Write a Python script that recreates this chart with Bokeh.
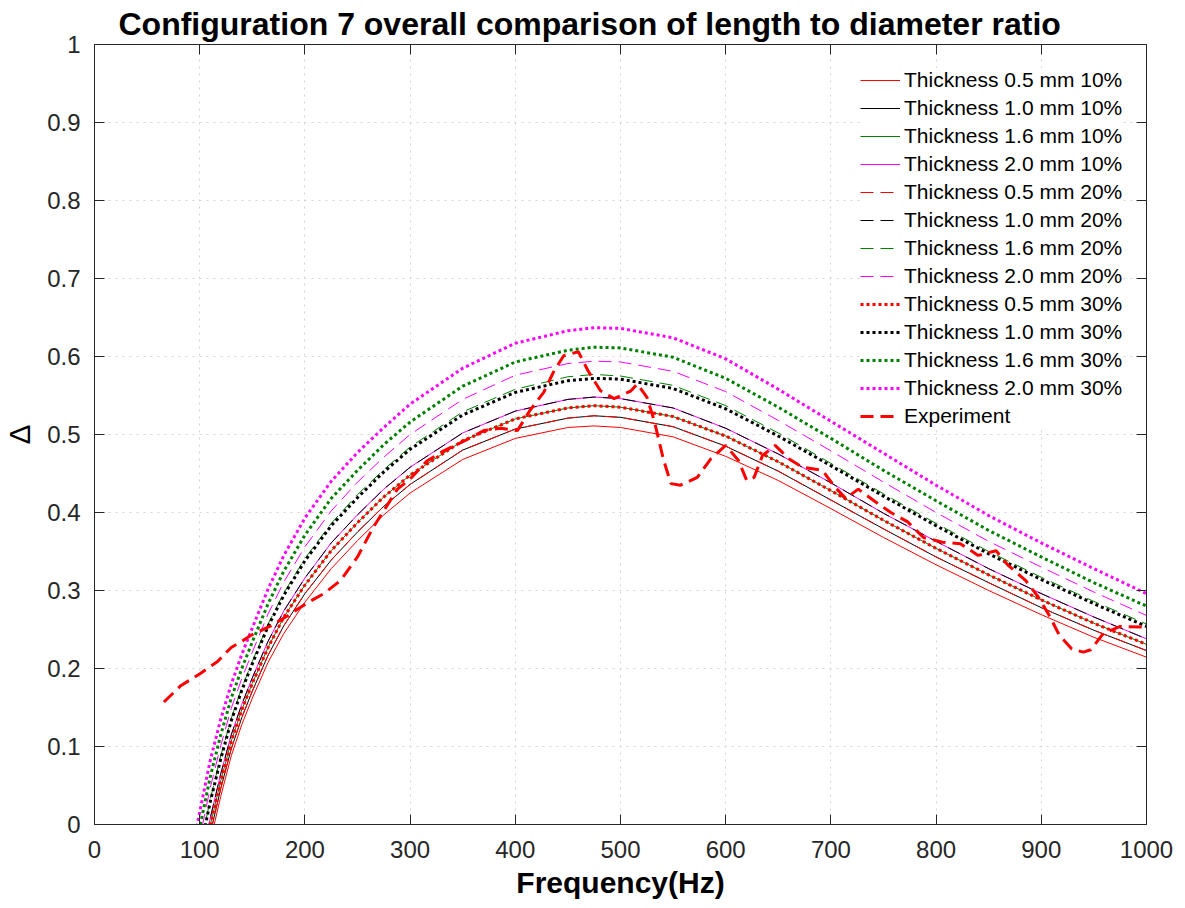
from bokeh.plotting import figure
from bokeh.models import (Range1d, LinearAxis, FixedTicker, NumeralTickFormatter,
                          Legend, LegendItem)
from bokeh.embed import file_html
from bokeh.resources import INLINE

# ---------------- data ----------------
freq = [95, 100, 110, 120, 130, 140, 150, 165, 180, 200, 225, 250, 275, 300, 350,
        400, 450, 475, 500, 550, 600, 650, 700, 750, 800, 850, 900, 950, 1000]

t05_10 = [-0.120, -0.085, -0.022, 0.036, 0.088, 0.128, 0.162, 0.208, 0.245, 0.285, 0.328, 0.364, 0.397, 0.425, 0.468,
          0.495, 0.509, 0.511, 0.509, 0.497, 0.472, 0.441, 0.405, 0.368, 0.333, 0.300, 0.269, 0.240, 0.2145]
t10_10 = [-0.110, -0.075, -0.012, 0.046, 0.097, 0.137, 0.171, 0.217, 0.255, 0.296, 0.339, 0.375, 0.408, 0.436, 0.480,
          0.507, 0.521, 0.524, 0.522, 0.510, 0.485, 0.453, 0.416, 0.379, 0.343, 0.310, 0.278, 0.249, 0.223]
t16_10 = [-0.099, -0.064, -0.001, 0.056, 0.107, 0.147, 0.181, 0.227, 0.266, 0.307, 0.351, 0.387, 0.420, 0.448, 0.492,
          0.520, 0.534, 0.537, 0.535, 0.523, 0.498, 0.465, 0.428, 0.390, 0.354, 0.320, 0.288, 0.258, 0.231]
t20_10 = [-0.090, -0.056, 0.008, 0.065, 0.115, 0.154, 0.188, 0.235, 0.274, 0.316, 0.361, 0.397, 0.430, 0.458, 0.502,
          0.530, 0.545, 0.548, 0.546, 0.534, 0.508, 0.475, 0.438, 0.399, 0.363, 0.328, 0.296, 0.266, 0.238]
t05_20 = [-0.110, -0.075, -0.012, 0.046, 0.097, 0.137, 0.171, 0.217, 0.255, 0.296, 0.339, 0.375, 0.408, 0.436, 0.480,
          0.507, 0.521, 0.524, 0.522, 0.510, 0.485, 0.453, 0.416, 0.379, 0.343, 0.310, 0.278, 0.249, 0.223]
t10_20 = [-0.090, -0.056, 0.008, 0.065, 0.115, 0.154, 0.188, 0.235, 0.274, 0.316, 0.361, 0.397, 0.430, 0.458, 0.502,
          0.530, 0.545, 0.548, 0.546, 0.534, 0.508, 0.475, 0.438, 0.399, 0.363, 0.328, 0.296, 0.266, 0.238]
t16_20 = [-0.067, -0.033, 0.032, 0.088, 0.136, 0.175, 0.209, 0.257, 0.297, 0.341, 0.386, 0.423, 0.455, 0.484, 0.529,
          0.558, 0.574, 0.577, 0.575, 0.563, 0.537, 0.502, 0.463, 0.424, 0.386, 0.350, 0.317, 0.286, 0.257]
t20_20 = [-0.053, -0.018, 0.047, 0.101, 0.149, 0.187, 0.221, 0.270, 0.311, 0.356, 0.402, 0.439, 0.471, 0.500, 0.545,
          0.576, 0.591, 0.594, 0.593, 0.581, 0.555, 0.518, 0.479, 0.439, 0.400, 0.363, 0.330, 0.298, 0.268]
t05_30 = [-0.099, -0.064, -0.001, 0.056, 0.107, 0.147, 0.181, 0.227, 0.266, 0.307, 0.351, 0.387, 0.420, 0.448, 0.492,
          0.520, 0.534, 0.537, 0.535, 0.523, 0.498, 0.465, 0.428, 0.390, 0.354, 0.320, 0.288, 0.258, 0.231]
t10_30 = [-0.070, -0.036, 0.029, 0.084, 0.133, 0.172, 0.206, 0.254, 0.294, 0.338, 0.383, 0.419, 0.452, 0.481, 0.525,
          0.554, 0.569, 0.572, 0.571, 0.559, 0.533, 0.498, 0.460, 0.421, 0.383, 0.347, 0.314, 0.283, 0.254]
t16_30 = [-0.038, -0.004, 0.061, 0.115, 0.162, 0.200, 0.234, 0.283, 0.325, 0.371, 0.418, 0.454, 0.487, 0.516, 0.562,
          0.593, 0.608, 0.612, 0.611, 0.599, 0.572, 0.535, 0.495, 0.454, 0.415, 0.377, 0.343, 0.310, 0.280]
t20_30 = [-0.018, 0.016, 0.082, 0.135, 0.180, 0.218, 0.252, 0.302, 0.345, 0.393, 0.440, 0.477, 0.509, 0.539, 0.585,
          0.617, 0.633, 0.637, 0.636, 0.624, 0.597, 0.558, 0.517, 0.476, 0.435, 0.396, 0.361, 0.328, 0.296]

exp_freq = [66, 82, 101, 117, 130, 139, 148, 168, 184, 202, 218, 234, 250, 265, 288, 300, 316, 332, 352, 370,
            386, 402, 414, 427, 437, 446, 460, 469, 481, 494, 510, 516, 525, 532, 541, 548, 557, 573, 586, 600,
            612, 620, 627, 635, 647, 660, 673, 692, 703, 714, 726, 741, 757, 773, 788, 806, 823, 840, 857, 868,
            885, 897, 908, 917, 929, 940, 947, 959, 975, 1000]
exp_delta = [0.157, 0.178, 0.194, 0.209, 0.227, 0.234, 0.242, 0.255, 0.268, 0.284, 0.296, 0.313, 0.343, 0.381, 0.430,
             0.443, 0.466, 0.479, 0.492, 0.505, 0.508, 0.505, 0.531, 0.554, 0.582, 0.601, 0.606, 0.582, 0.556, 0.546,
             0.556, 0.565, 0.548, 0.518, 0.467, 0.437, 0.435, 0.445, 0.469, 0.486, 0.467, 0.441, 0.445, 0.473, 0.486,
             0.469, 0.458, 0.454, 0.434, 0.418, 0.430, 0.415, 0.400, 0.388, 0.368, 0.362, 0.360, 0.345, 0.351, 0.333,
             0.313, 0.292, 0.267, 0.243, 0.225, 0.221, 0.224, 0.245, 0.254, 0.253]

x_ticks = [0, 100, 200, 300, 400, 500, 600, 700, 800, 900, 1000]
y_ticks = [0, 0.1, 0.2, 0.3, 0.4, 0.5, 0.6, 0.7, 0.8, 0.9, 1]

labels = ["Thickness 0.5 mm 10%", "Thickness 1.0 mm 10%", "Thickness 1.6 mm 10%", "Thickness 2.0 mm 10%",
          "Thickness 0.5 mm 20%", "Thickness 1.0 mm 20%", "Thickness 1.6 mm 20%", "Thickness 2.0 mm 20%",
          "Thickness 0.5 mm 30%", "Thickness 1.0 mm 30%", "Thickness 1.6 mm 30%", "Thickness 2.0 mm 30%"]
series = [t05_10, t10_10, t16_10, t20_10, t05_20, t10_20, t16_20, t20_20, t05_30, t10_30, t16_30, t20_30]

title_text = "Configuration 7 overall comparison of length to diameter ratio"
x_label = "Frequency(Hz)"
y_label = "Δ"

# ---------------- styling ----------------
FONT = "Liberation Sans"
INK = "#262626"
colors = ["#ff0000", "#000000", "#008000", "#ff00ff"]
styles = [dict(line_width=1, line_dash="solid"),
          dict(line_width=1, line_dash="13 7"),
          dict(line_width=3, line_dash="3 3")]

p = figure(width=1183, height=906, output_backend="svg", toolbar_location=None,
           x_range=Range1d(0, 1000), y_range=Range1d(0, 1),
           min_border_left=94, min_border_right=37, min_border_top=44, min_border_bottom=82,
           background_fill_color="white", border_fill_color="white",
           outline_line_color=None)

ax_top = LinearAxis()
ax_right = LinearAxis()
p.add_layout(ax_top, "above")
p.add_layout(ax_right, "right")
ax_bottom = p.below[0]
ax_left = p.left[0]

for ax in (ax_bottom, ax_top):
    ax.ticker = FixedTicker(ticks=x_ticks)
for ax in (ax_left, ax_right):
    ax.ticker = FixedTicker(ticks=y_ticks)
    ax.formatter = NumeralTickFormatter(format="0.[0]")

for ax in (ax_bottom, ax_top, ax_left, ax_right):
    ax.axis_line_color = INK
    ax.axis_line_width = 1
    ax.major_tick_line_color = INK
    ax.major_tick_in = 10
    ax.major_tick_out = 0
    ax.minor_tick_line_color = None
    ax.major_label_text_font = FONT
    ax.major_label_text_font_size = "24px"
    ax.major_label_text_color = INK

for ax in (ax_top, ax_right):
    ax.major_label_text_font_size = "1px"
    ax.major_label_text_color = None
    ax.major_label_standoff = 0

ax_bottom.major_label_standoff = 16
ax_left.major_label_standoff = 14

ax_bottom.axis_label = x_label
ax_bottom.axis_label_text_font = FONT
ax_bottom.axis_label_text_font_style = "bold"
ax_bottom.axis_label_text_font_size = "30px"
ax_bottom.axis_label_text_color = "black"
ax_bottom.axis_label_standoff = 5

ax_left.axis_label = y_label
ax_left.axis_label_text_font = FONT
ax_left.axis_label_text_font_style = "normal"
ax_left.axis_label_text_font_size = "30px"
ax_left.axis_label_text_color = "black"
ax_left.axis_label_standoff = 8

for g in (p.xgrid, p.ygrid):
    g.grid_line_color = "#d4d4d4"
    g.grid_line_dash = "2 5"
    g.grid_line_width = 1

p.title.text = title_text
p.title.align = "left"
p.title.offset = 24
p.title.vertical_align = "top"
p.title.standoff = 2
p.title.text_font = FONT
p.title.text_font_style = "bold"
p.title.text_font_size = "32px"
p.title.text_color = "black"

items = []
for i, (lab, vals) in enumerate(zip(labels, series)):
    st = styles[i // 4]
    r = p.line(freq, vals, line_color=colors[i % 4], **st)
    items.append(LegendItem(label=lab, renderers=[r]))

r_exp = p.line(exp_freq, exp_delta, line_color="#ff0000", line_width=3, line_dash="13 7")
items.append(LegendItem(label="Experiment", renderers=[r_exp]))

legend = Legend(items=items, location=(766, 396),
                label_text_font=FONT, label_text_font_size="21px", label_text_color="black",
                glyph_width=40, glyph_height=24, label_height=24, spacing=4,
                padding=4, margin=0, label_standoff=4,
                border_line_color=None, background_fill_color="white", background_fill_alpha=1.0)
p.add_layout(legend)

open("out.html", "w").write(file_html(p, INLINE))
